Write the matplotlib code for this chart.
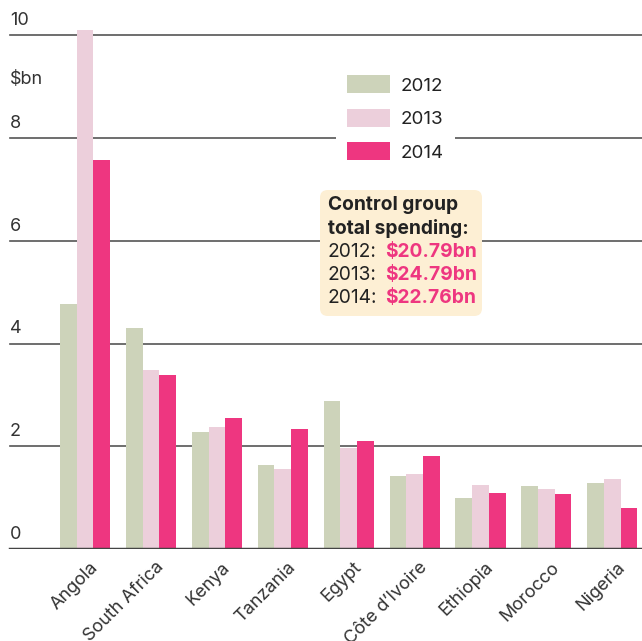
import numpy as np
import matplotlib.pyplot as plt
from matplotlib.patches import Patch, FancyBboxPatch
from matplotlib.transforms import ScaledTranslation

countries = ['Angola', 'South Africa', 'Kenya', 'Tanzania', 'Egypt',
             'Côte d’Ivoire', 'Ethiopia', 'Morocco', 'Nigeria']
years = ['2012', '2013', '2014']
v2012 = [4.78, 4.31, 2.27, 1.63, 2.88, 1.42, 0.99, 1.22, 1.28]
v2013 = [10.11, 3.49, 2.37, 1.55, 1.97, 1.47, 1.24, 1.16, 1.37]
v2014 = [7.58, 3.38, 2.55, 2.33, 2.11, 1.82, 1.10, 1.07, 0.79]
totals = ['$20.79bn', '$24.79bn', '$22.76bn']
yticks = [0, 2, 4, 6, 8, 10]

colors = ['#cdd3ba', '#eccfdb', '#ee3680']
dark = '#222222'

plt.rcParams['font.family'] = ['Inter', 'DejaVu Sans']

W, H = 642, 641
fig = plt.figure(figsize=(W / 100, H / 100), dpi=100)
ax = fig.add_axes([0, 92 / H, 1, 1 - 92 / H])

x = np.arange(len(countries))
bw = 0.253
for i, vals in enumerate([v2012, v2013, v2014]):
    ax.bar(x + (i - 1) * bw, vals, width=bw, color=colors[i], label=years[i], zorder=2)

ax.set_xlim(-1.29, 8.45)
ax.set_ylim(0, 10.69)

x0 = 10 / W
for t in yticks:
    if t == 0:
        ax.axhline(0, xmin=x0, color='#444444', lw=2.5, zorder=3)
    else:
        ax.axhline(t, xmin=x0, color='#555555', lw=1.2, zorder=1)
    ax.text(x0, t + 0.12, str(t), transform=ax.get_yaxis_transform(),
            ha='left', va='bottom', fontsize=13, color='#333333')
ax.text(x0, 9.15, '$bn', transform=ax.get_yaxis_transform(),
        ha='left', va='center', fontsize=13, color='#333333')

for s in ax.spines.values():
    s.set_visible(False)
ax.set_yticks([])
ax.set_xticks(x)
ax.set_xticklabels(countries, rotation=45, ha='right', rotation_mode='anchor',
                   fontsize=13, color='#333333')
ax.tick_params(axis='x', length=0, pad=7)
# reference labels end a little right of the group centre
shift = ScaledTranslation(3 / 72, 0, fig.dpi_scale_trans)
for lbl in ax.get_xticklabels():
    lbl.set_transform(lbl.get_transform() + shift)

handles = [Patch(facecolor=c, edgecolor='none') for c in colors]
leg = ax.legend(handles, years, loc='upper left',
                bbox_to_anchor=(336 / W, 1 - 64 / H), bbox_transform=fig.transFigure,
                frameon=True, fontsize=13.5, handlelength=2.3, handleheight=1.1,
                labelspacing=0.75, handletextpad=0.55, borderpad=0.6,
                borderaxespad=0, fancybox=False)
leg.get_frame().set_facecolor('white')
leg.get_frame().set_edgecolor('none')
leg.get_frame().set_alpha(1)
leg.set_zorder(5)
for t in leg.get_texts():
    t.set_color(dark)

box = FancyBboxPatch((320 / W, 1 - 316 / H), 162 / W, 126 / H,
                     boxstyle='round,pad=0,rounding_size=0.012',
                     transform=fig.transFigure, facecolor='#fdefd4',
                     edgecolor='none', zorder=6)
fig.patches.append(box)

fs = 13.8
fig.text(328 / W, 1 - 205 / H, 'Control group', fontsize=fs, fontweight='bold',
         color=dark, va='center', zorder=7)
fig.text(328 / W, 1 - 228 / H, 'total spending:', fontsize=fs, fontweight='bold',
         color=dark, va='center', zorder=7)
for i, (yr, tot) in enumerate(zip(years, totals)):
    yy = 1 - (252 + i * 23) / H
    fig.text(328 / W, yy, yr + ':', fontsize=fs, color=dark, va='center', zorder=7)
    fig.text(385 / W, yy, tot, fontsize=fs, fontweight='bold', color=colors[2],
             va='center', zorder=7)

plt.savefig('out.png', dpi=100)
